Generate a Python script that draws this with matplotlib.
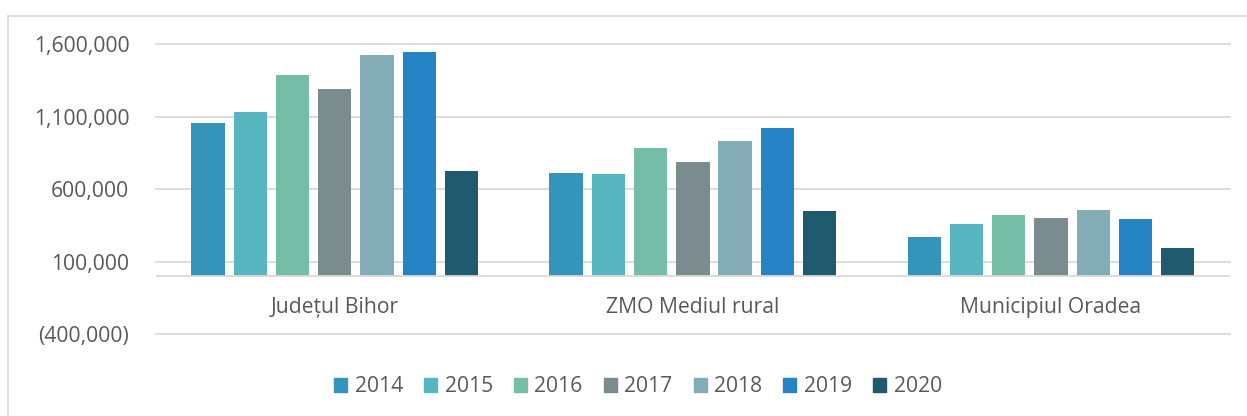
import matplotlib.pyplot as plt
from matplotlib.lines import Line2D
from matplotlib.patches import Patch
from matplotlib.ticker import FuncFormatter
import numpy as np

categories = ["Județul Bihor", "ZMO Mediul rural", "Municipiul Oradea"]
years = ["2014", "2015", "2016", "2017", "2018", "2019", "2020"]

# values per year, one number per category
v2014 = [1054000, 712000, 272000]
v2015 = [1134000, 705000, 358000]
v2016 = [1388000, 882000, 420000]
v2017 = [1293000, 788000, 403000]
v2018 = [1523000, 932000, 457000]
v2019 = [1546000, 1024000, 392000]
v2020 = [726000, 452000, 197000]
series = [v2014, v2015, v2016, v2017, v2018, v2019, v2020]

yticks = [-400000, 100000, 600000, 1100000, 1600000]

colors = ["#3494BA", "#58B6C0", "#75BDA7", "#7A8C8E", "#84ACB6", "#2683C6", "#1F5A6E"]
text_color = "#595959"
grid_color = "#D9D9D9"

plt.rcParams["font.family"] = ["Open Sans", "DejaVu Sans"]
fs = 15.2

fig = plt.figure(figsize=(12.47, 4.16), dpi=100)
ax = fig.add_axes([0.1249, 0.1964, 0.8615, 0.6978])

x = np.arange(len(categories))
step = 0.118
width = 0.093
for i, (vals, col) in enumerate(zip(series, colors)):
    ax.bar(x + (i - 3) * step, vals, width=width, color=col, zorder=3)

ax.set_xlim(-0.5, len(categories) - 0.5)
ax.set_ylim(yticks[0], yticks[-1])
ax.set_yticks(yticks)
ax.yaxis.set_major_formatter(
    FuncFormatter(lambda v, p: f"({abs(v):,.0f})" if v < 0 else f"{v:,.0f}"))
ax.tick_params(axis="y", length=0, pad=19, labelsize=fs, labelcolor=text_color)
ax.set_xticks([])
ax.grid(axis="y", color=grid_color, lw=1.3, zorder=0)
for gl in ax.get_ygridlines():
    gl.set_clip_on(False)
ax.axhline(0, color=grid_color, lw=1.3, zorder=4)
for s in ax.spines.values():
    s.set_visible(False)

for xi, name in zip(x, categories):
    ax.annotate(name, xy=(xi, 0), xytext=(0, -22.7), textcoords="offset points",
                ha="center", va="center", fontsize=fs, color=text_color)

handles = [Patch(color=c) for c in colors]
leg = fig.legend(handles, years, loc="center", bbox_to_anchor=(638 / 1247, 1 - 387 / 416),
                 ncol=7, frameon=False, fontsize=fs, handlelength=0.62, handleheight=0.62,
                 handletextpad=0.35, columnspacing=1.0)
for t in leg.get_texts():
    t.set_color(text_color)

# chart border (only top and left visible)
border = "#D5DFEA"
fig.add_artist(Line2D([8 / 1247, 1], [1 - 15.5 / 416] * 2, color=border, lw=1.3))
fig.add_artist(Line2D([8 / 1247] * 2, [0, 1 - 15.5 / 416], color=border, lw=1.3))

fig.savefig("out.png", dpi=100)
